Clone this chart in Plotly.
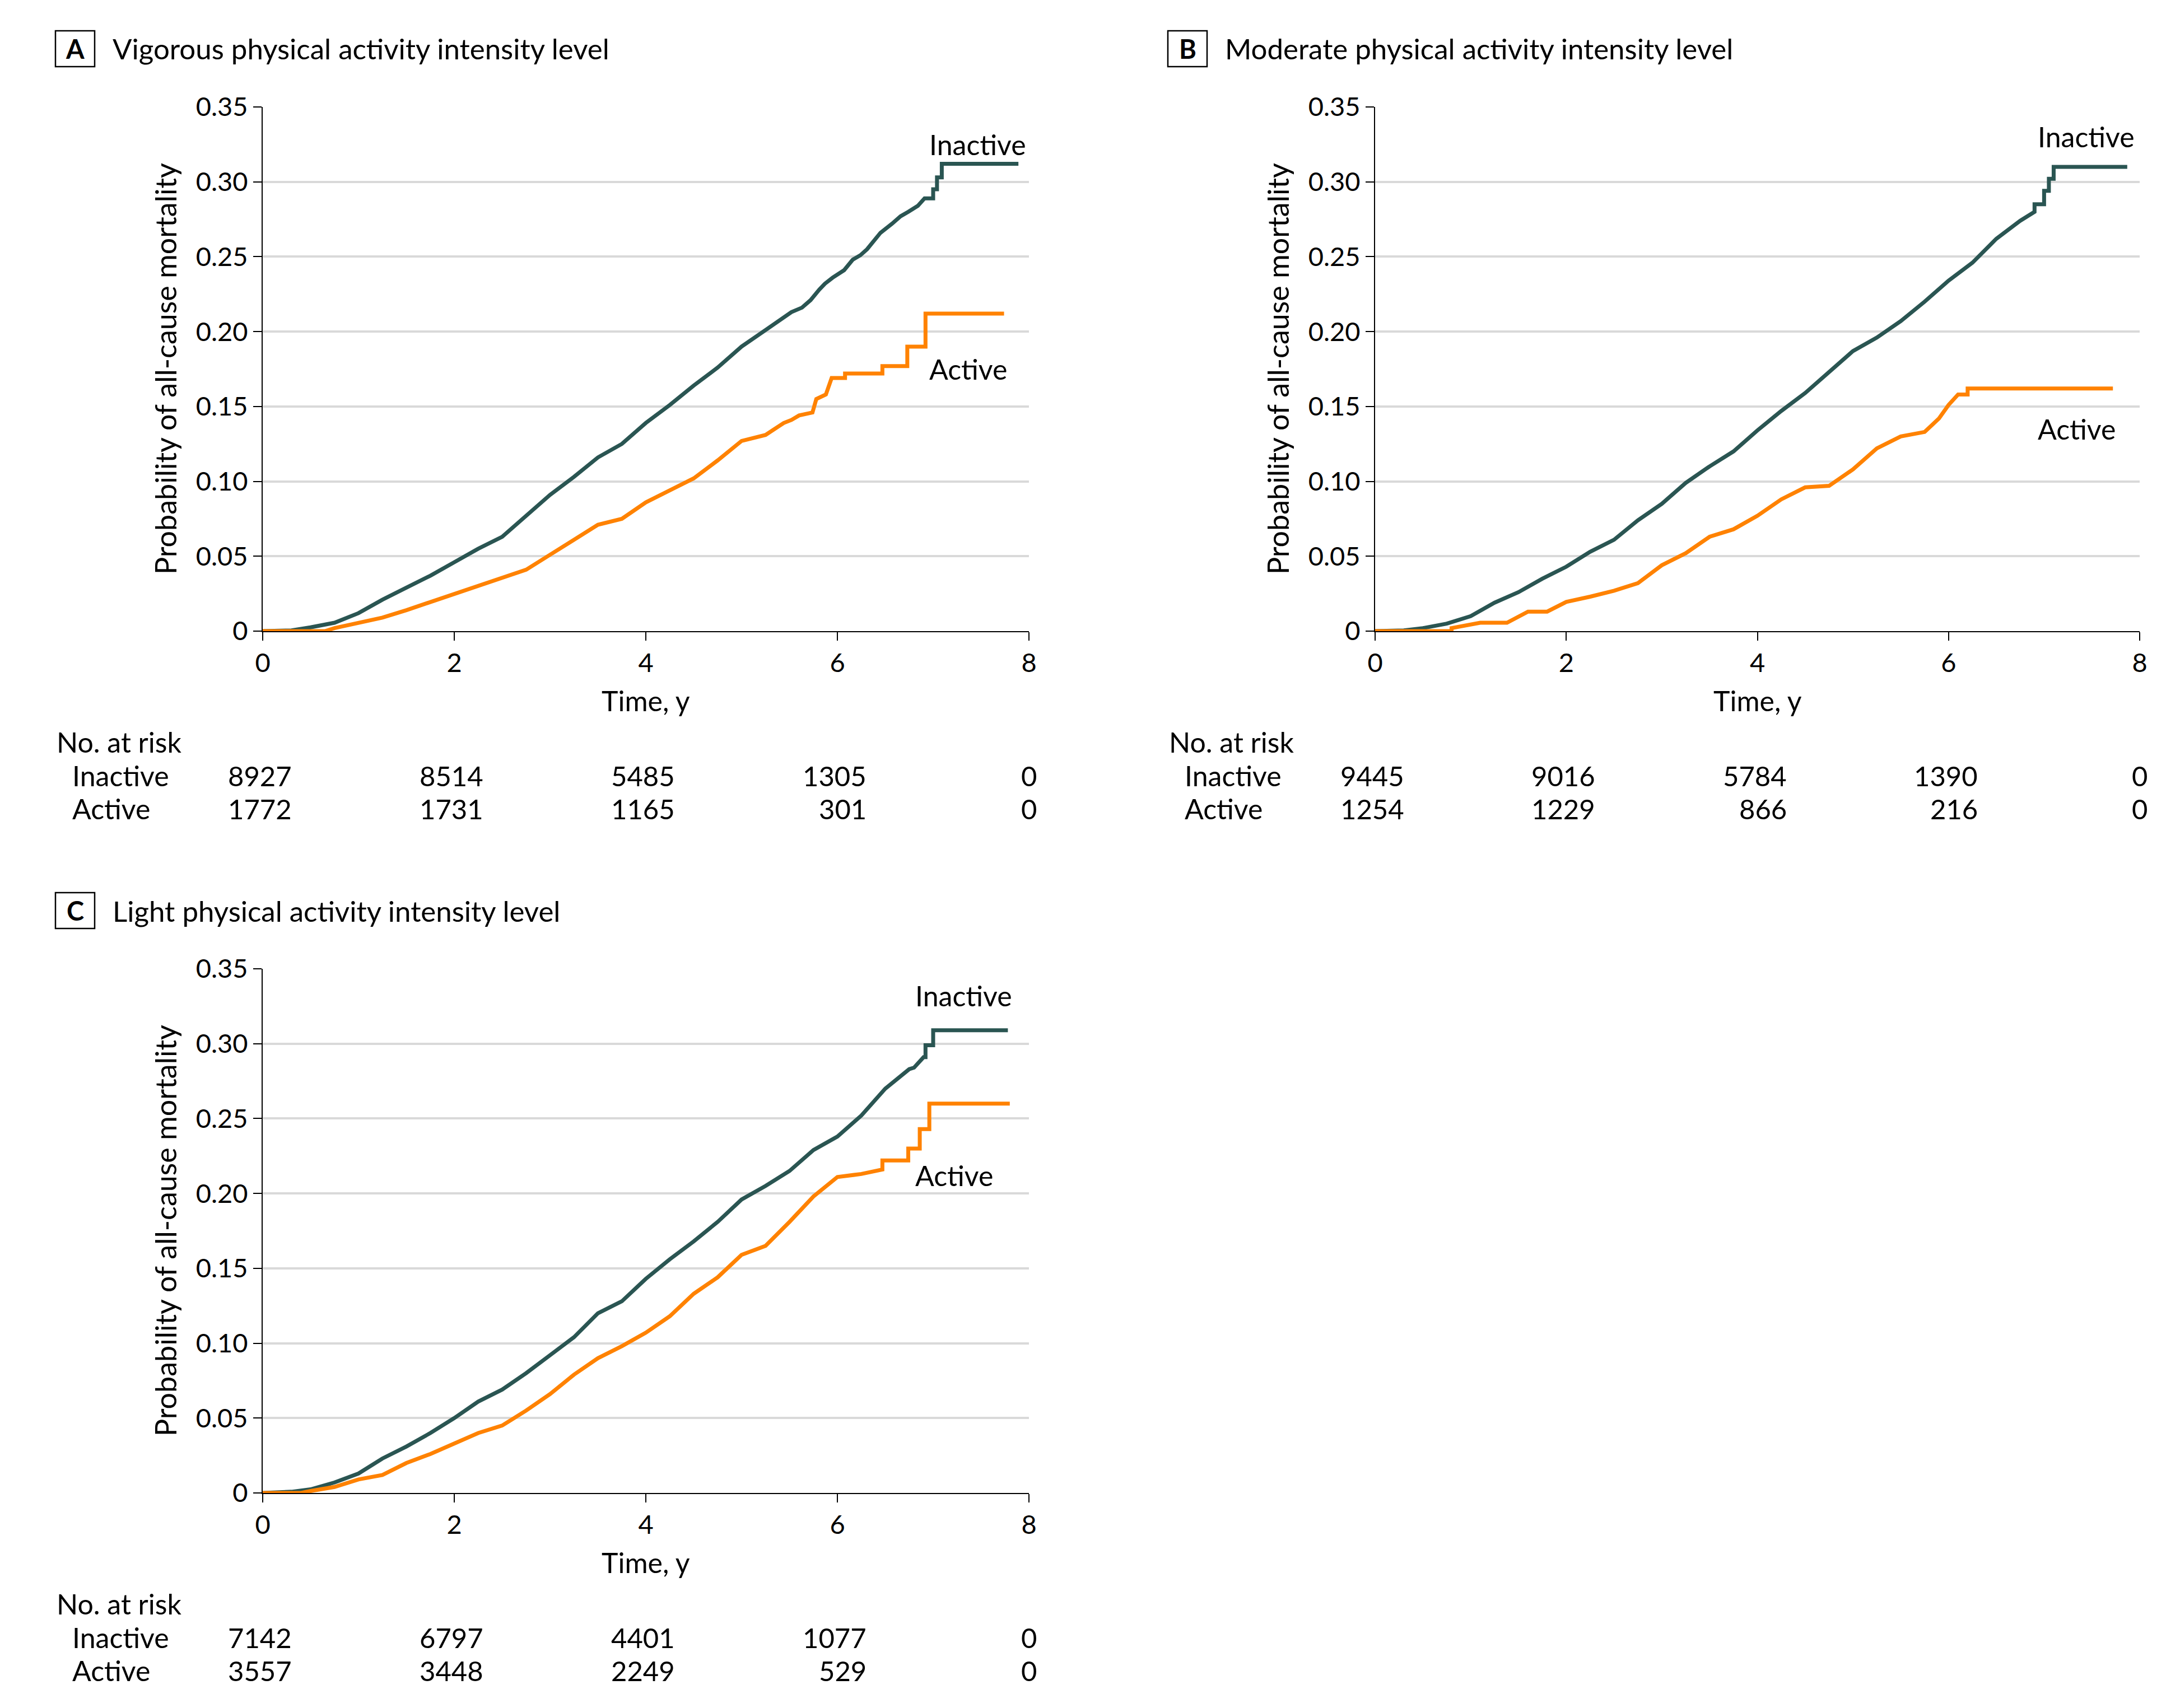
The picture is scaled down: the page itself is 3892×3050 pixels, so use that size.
import plotly.graph_objects as go

W, H = 3892, 3050
FONT = "Lato"
PAGE_MARGIN = 8  # the browser's default body margin pushes the figure 8 px right/down

# ---- values ----
panel_letters = ["A", "B", "C"]
panel_titles = [
    "Vigorous physical activity intensity level",
    "Moderate physical activity intensity level",
    "Light physical activity intensity level",
]
group_names = ["Inactive", "Active"]

# A: vigorous
vig_inactive_t = [0, 0.3, 0.5, 0.75, 1.0, 1.25, 1.5, 1.75, 2.0, 2.25, 2.5, 2.75, 3.0, 3.25, 3.5, 3.75,
                  4.0, 4.25, 4.5, 4.75, 5.0, 5.25, 5.44, 5.52, 5.63, 5.72, 5.81, 5.87, 5.95, 6.07,
                  6.16, 6.24, 6.31, 6.38, 6.45, 6.57, 6.66, 6.74, 6.84, 6.91, 7.0, 7.0, 7.04, 7.04,
                  7.09, 7.09, 7.89]
vig_inactive_p = [0, 0.0005, 0.0025, 0.0056, 0.012, 0.021, 0.029, 0.037, 0.046, 0.055, 0.063, 0.077,
                  0.091, 0.103, 0.116, 0.125, 0.139, 0.151, 0.164, 0.176, 0.190, 0.201, 0.209, 0.213,
                  0.216, 0.221, 0.228, 0.232, 0.236, 0.241, 0.248, 0.251, 0.255, 0.261, 0.266, 0.272,
                  0.277, 0.280, 0.284, 0.289, 0.289, 0.295, 0.295, 0.303, 0.303, 0.312, 0.312]
vig_active_t = [0, 0.65, 0.75, 1.0, 1.25, 1.5, 1.75, 2.0, 2.25, 2.5, 2.75, 3.0, 3.25, 3.5, 3.75, 4.0,
                4.25, 4.5, 4.75, 5.0, 5.25, 5.44, 5.52, 5.6, 5.74, 5.78, 5.88, 5.91, 5.94, 6.08, 6.08,
                6.47, 6.47, 6.73, 6.73, 6.92, 6.92, 7.74]
vig_active_p = [0, 0, 0.002, 0.0056, 0.009, 0.014, 0.0195, 0.025, 0.030, 0.036, 0.041, 0.051, 0.061,
                0.071, 0.075, 0.086, 0.094, 0.102, 0.114, 0.127, 0.131, 0.139, 0.141, 0.144, 0.146,
                0.155, 0.158, 0.164, 0.169, 0.169, 0.172, 0.172, 0.177, 0.177, 0.190, 0.190, 0.212,
                0.212]

# B: moderate
mod_inactive_t = [0, 0.3, 0.5, 0.75, 1.0, 1.25, 1.5, 1.75, 2.0, 2.25, 2.5, 2.75, 3.0, 3.25, 3.5, 3.75,
                  4.0, 4.25, 4.5, 4.75, 5.0, 5.25, 5.5, 5.75, 6.0, 6.25, 6.5, 6.75, 6.9, 6.9, 7.0, 7.0,
                  7.05, 7.05, 7.1, 7.1, 7.87]
mod_inactive_p = [0, 0.0005, 0.002, 0.005, 0.010, 0.019, 0.026, 0.035, 0.043, 0.053, 0.061, 0.074,
                  0.085, 0.099, 0.110, 0.120, 0.134, 0.147, 0.159, 0.173, 0.187, 0.196, 0.207, 0.220,
                  0.234, 0.246, 0.262, 0.274, 0.280, 0.285, 0.285, 0.294, 0.294, 0.302, 0.302, 0.310,
                  0.310]
mod_active_t = [0, 0.8, 0.8, 1.0, 1.1, 1.38, 1.5, 1.6, 1.8, 2.0, 2.25, 2.5, 2.75, 3.0, 3.25, 3.5, 3.75,
                4.0, 4.25, 4.5, 4.75, 5.0, 5.25, 5.5, 5.75, 5.9, 6.0, 6.1, 6.2, 6.2, 7.72]
mod_active_p = [0, 0, 0.002, 0.004, 0.0056, 0.0056, 0.010, 0.013, 0.013, 0.0195, 0.023, 0.027, 0.032,
                0.044, 0.052, 0.063, 0.068, 0.077, 0.088, 0.096, 0.097, 0.108, 0.122, 0.130, 0.133,
                0.142, 0.151, 0.158, 0.158, 0.162, 0.162]

# C: light
light_inactive_t = [0, 0.3, 0.5, 0.75, 1.0, 1.25, 1.5, 1.75, 2.0, 2.25, 2.5, 2.75, 3.0, 3.25, 3.5, 3.75,
                    4.0, 4.25, 4.5, 4.75, 5.0, 5.25, 5.5, 5.75, 6.0, 6.25, 6.5, 6.75, 6.8, 6.9, 6.92,
                    6.92, 7.0, 7.0, 7.78]
light_inactive_p = [0, 0.0008, 0.0024, 0.007, 0.013, 0.023, 0.031, 0.040, 0.050, 0.061, 0.069, 0.080,
                    0.092, 0.104, 0.120, 0.128, 0.143, 0.156, 0.168, 0.181, 0.196, 0.205, 0.215, 0.229,
                    0.238, 0.252, 0.270, 0.283, 0.284, 0.291, 0.291, 0.299, 0.299, 0.309, 0.309]
light_active_t = [0, 0.4, 0.5, 0.75, 1.0, 1.25, 1.5, 1.75, 2.0, 2.25, 2.5, 2.75, 3.0, 3.25, 3.5, 3.75,
                  4.0, 4.25, 4.5, 4.75, 5.0, 5.25, 5.5, 5.75, 6.0, 6.25, 6.47, 6.47, 6.74, 6.74, 6.86,
                  6.86, 6.96, 6.96, 7.8]
light_active_p = [0, 0, 0.0013, 0.004, 0.009, 0.012, 0.020, 0.026, 0.033, 0.040, 0.045, 0.055, 0.066,
                  0.079, 0.090, 0.098, 0.107, 0.118, 0.133, 0.144, 0.159, 0.165, 0.181, 0.198, 0.211,
                  0.213, 0.216, 0.222, 0.222, 0.230, 0.230, 0.243, 0.243, 0.260, 0.260]

# number at risk
risk_times = [0, 2, 4, 6, 8]
vig_risk_inactive = [8927, 8514, 5485, 1305, 0]
vig_risk_active = [1772, 1731, 1165, 301, 0]
mod_risk_inactive = [9445, 9016, 5784, 1390, 0]
mod_risk_active = [1254, 1229, 866, 216, 0]
light_risk_inactive = [7142, 6797, 4401, 1077, 0]
light_risk_active = [3557, 3448, 2249, 529, 0]

x_tickvals = [0, 2, 4, 6, 8]
y_tickvals = [0, 0.05, 0.10, 0.15, 0.20, 0.25, 0.30, 0.35]
y_ticktext = ["0", "0.05", "0.10", "0.15", "0.20", "0.25", "0.30", "0.35"]

# ---- styling ----
INACTIVE_COLOR = "#2a5552"
ACTIVE_COLOR = "#ff8200"
GRID_COLOR = "#d9d9d9"

curves = [
    ((vig_inactive_t, vig_inactive_p), (vig_active_t, vig_active_p)),
    ((mod_inactive_t, mod_inactive_p), (mod_active_t, mod_active_p)),
    ((light_inactive_t, light_inactive_p), (light_active_t, light_active_p)),
]
risks = [
    (vig_risk_inactive, vig_risk_active),
    (mod_risk_inactive, mod_risk_active),
    (light_risk_inactive, light_risk_active),
]
# plot area in page pixels: left, right, top, bottom
boxes = [(469, 1837, 191, 1127), (2455, 3820, 191, 1127), (469, 1837, 1730, 2666)]
# where the curve labels sit (data coords): x, y inactive, y active
label_pos = [(6.95, 0.325, 0.175), (6.92, 0.330, 0.135), (6.80, 0.332, 0.212)]


def px(x):
    return (x - PAGE_MARGIN) / W


def py(y):
    return 1 - (y - PAGE_MARGIN) / H


fig = go.Figure()
annotations = []
shapes = []

for i in range(3):
    left, right, top, bottom = boxes[i]
    xa = "x" if i == 0 else f"x{i + 1}"
    ya = "y" if i == 0 else f"y{i + 1}"
    suffix = "" if i == 0 else str(i + 1)

    (ti, pi), (ta, pa) = curves[i]
    fig.add_trace(go.Scatter(x=ti, y=pi, mode="lines", xaxis=xa, yaxis=ya,
                             line=dict(color=INACTIVE_COLOR, width=7), showlegend=False))
    fig.add_trace(go.Scatter(x=ta, y=pa, mode="lines", xaxis=xa, yaxis=ya,
                             line=dict(color=ACTIVE_COLOR, width=7), showlegend=False))

    fig.layout["xaxis" + suffix] = dict(
        domain=[px(left), px(right)], anchor=ya, range=[0, 8], automargin=False,
        tickvals=x_tickvals, showline=True, linecolor="black", linewidth=2,
        ticks="outside", ticklen=15, tickwidth=2, tickcolor="black",
        showgrid=False, zeroline=False,
        tickfont=dict(family=FONT, size=47, color="black"),
    )
    fig.layout["yaxis" + suffix] = dict(
        domain=[py(bottom), py(top)], anchor=xa, range=[0, 0.35], automargin=False,
        tickvals=y_tickvals, ticktext=y_ticktext, showline=True, linecolor="black",
        linewidth=2, ticks="outside", ticklen=15, tickwidth=2, tickcolor="black",
        showgrid=True, gridcolor=GRID_COLOR, gridwidth=4, zeroline=False,
        tickfont=dict(family=FONT, size=47, color="black"),
    )

    # panel letter box + title
    shapes.append(dict(type="rect", xref="paper", yref="paper",
                       x0=px(left - 370), x1=px(left - 300),
                       y0=py(top - 72), y1=py(top - 136),
                       line=dict(color="black", width=2.5)))
    annotations.append(dict(text=f"<b>{panel_letters[i]}</b>", xref="paper", yref="paper",
                            x=px(left - 335), y=py(top - 104), xanchor="center", yanchor="middle",
                            showarrow=False, font=dict(family=FONT, size=47, color="black")))
    annotations.append(dict(text=panel_titles[i], xref="paper", yref="paper",
                            x=px(left - 270), y=py(top - 104), xanchor="left", yanchor="middle",
                            showarrow=False, font=dict(family=FONT, size=51, color="black")))

    # axis titles
    annotations.append(dict(text="Probability of all-cause mortality", xref="paper", yref="paper",
                            x=px(left - 174), y=py((top + bottom) / 2), textangle=-90,
                            xanchor="center", yanchor="middle", showarrow=False,
                            font=dict(family=FONT, size=52, color="black")))
    annotations.append(dict(text="Time, y", xref=xa, yref="paper", x=4, y=py(bottom + 124),
                            xanchor="center", yanchor="middle", showarrow=False,
                            font=dict(family=FONT, size=50, color="black")))

    # curve labels
    lx, ly_in, ly_act = label_pos[i]
    for name, ly in zip(group_names, (ly_in, ly_act)):
        annotations.append(dict(text=name, xref=xa, yref=ya, x=lx, y=ly, xanchor="left",
                                yanchor="middle", showarrow=False,
                                font=dict(family=FONT, size=50, color="black")))

    # number at risk table
    annotations.append(dict(text="No. at risk", xref="paper", yref="paper",
                            x=px(left - 370), y=py(bottom + 198), xanchor="left",
                            yanchor="middle", showarrow=False,
                            font=dict(family=FONT, size=50, color="black")))
    for name, counts, dy in zip(group_names, risks[i], (258, 317)):
        annotations.append(dict(text=name, xref="paper", yref="paper",
                                x=px(left - 342), y=py(bottom + dy), xanchor="left",
                                yanchor="middle", showarrow=False,
                                font=dict(family=FONT, size=50, color="black")))
        for t, n in zip(risk_times, counts):
            last = t == risk_times[-1]
            annotations.append(dict(text=str(n), xref=xa, yref="paper", x=t, y=py(bottom + dy),
                                    xanchor="center" if last else "right",
                                    xshift=0 if last else 54, yanchor="middle",
                                    showarrow=False,
                                    font=dict(family=FONT, size=49, color="black")))

fig.update_layout(
    width=W, height=H,
    margin=dict(l=0, r=0, t=0, b=0),
    paper_bgcolor="white", plot_bgcolor="white",
    annotations=annotations, shapes=shapes,
    font=dict(family=FONT, color="black"),
)

fig.write_html("out.html")
